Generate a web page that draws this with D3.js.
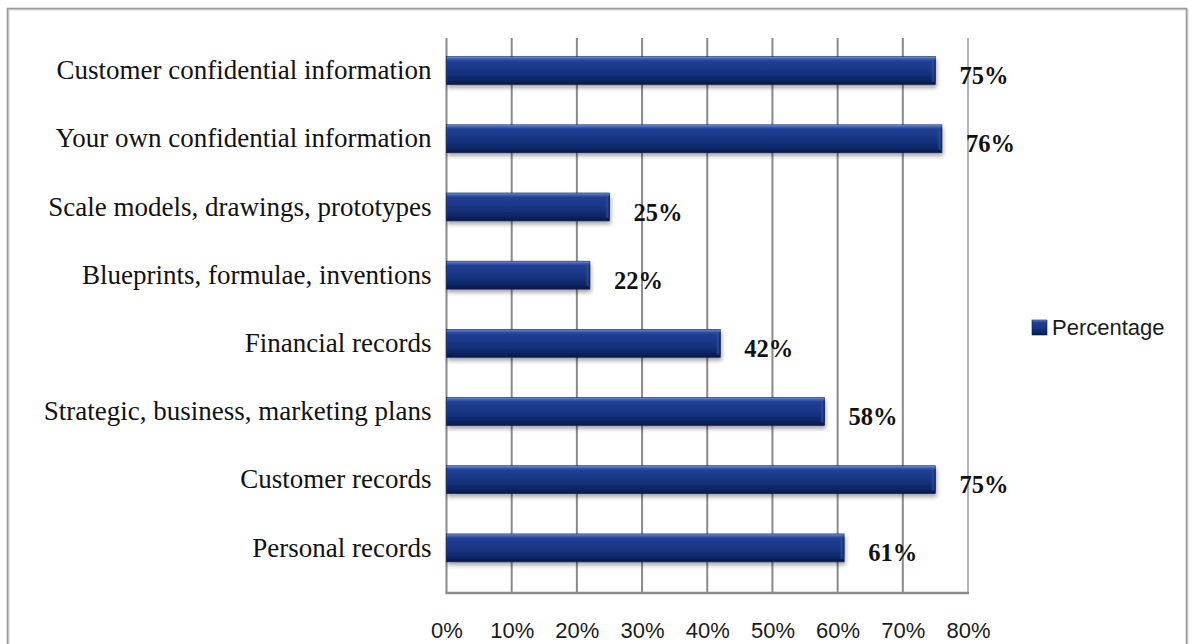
<!DOCTYPE html>
<html>
<head>
<meta charset="utf-8">
<script src="https://cdn.jsdelivr.net/npm/d3@7/dist/d3.min.js"></script>
<style>
  html, body { margin: 0; padding: 0; background: #ffffff; }
  svg { display: block; }
</style>
</head>
<body>
<svg id="chart" width="1193" height="644"></svg>
<script>
// Kinds of information, top to bottom, and the share of respondents for each
const categories = [
  "Customer confidential information",
  "Your own confidential information",
  "Scale models, drawings, prototypes",
  "Blueprints, formulae, inventions",
  "Financial records",
  "Strategic, business, marketing plans",
  "Customer records",
  "Personal records"
];
const percentages = [75, 76, 25, 22, 42, 58, 75, 61];
const tickValues = [0, 10, 20, 30, 40, 50, 60, 70, 80];
const seriesName = "Percentage";

const svg = d3.select("#chart");
const W = 1193, H = 644;
// Band area for the bars, and the taller frame of gridlines around it
const plot = { left: 446.5, right: 968, top: 36.5, bottom: 582 };
const grid = { top: 38, bottom: 593 };

const defs = svg.append("defs");

// Bevelled navy fill for the bars
const grad = defs.append("linearGradient")
  .attr("id", "barFill").attr("x1", 0).attr("y1", 0).attr("x2", 0).attr("y2", 1);
[[0, "#7d9be0"], [0.07, "#3e62b4"], [0.16, "#223f92"], [0.5, "#183684"],
 [0.82, "#0d2766"], [0.93, "#081c52"], [1, "#0a1a44"]]
  .forEach(([o, c]) => grad.append("stop").attr("offset", o).attr("stop-color", c));

// Right end bevel of each bar
const endGrad = defs.append("linearGradient")
  .attr("id", "barEnd").attr("x1", 0).attr("y1", 0).attr("x2", 1).attr("y2", 0);
[[0, "#1a3a8a", 0], [0.5, "#3a5cb0", 0.55], [1, "#0a1a48", 0.9]]
  .forEach(([o, c, a]) => endGrad.append("stop").attr("offset", o)
    .attr("stop-color", c).attr("stop-opacity", a));

// Soft shadow under the bars
const shadow = defs.append("filter").attr("id", "barShadow")
  .attr("x", "-5%").attr("y", "-30%").attr("width", "115%").attr("height", "180%");
shadow.append("feGaussianBlur").attr("in", "SourceAlpha").attr("stdDeviation", 2).attr("result", "blur");
shadow.append("feOffset").attr("in", "blur").attr("dx", 1).attr("dy", 3).attr("result", "off");
shadow.append("feComponentTransfer").attr("in", "off").attr("result", "soft")
  .append("feFuncA").attr("type", "linear").attr("slope", 0.35);
const merge = shadow.append("feMerge");
merge.append("feMergeNode").attr("in", "soft");
merge.append("feMergeNode").attr("in", "SourceGraphic");

// Outer chart frame
svg.append("rect")
  .attr("x", 8.5).attr("y", 9.5).attr("width", W - 14).attr("height", H)
  .attr("fill", "none").attr("stroke", "#d6d6d6").attr("stroke-width", 2);
svg.append("rect")
  .attr("x", 7.5).attr("y", 8.5).attr("width", W - 14).attr("height", H)
  .attr("fill", "none").attr("stroke", "#9a9a9a").attr("stroke-width", 1.6);

const x = d3.scaleLinear().domain([0, 80]).range([plot.left, plot.right]);
const y = d3.scaleBand().domain(categories)
  .range([plot.top, plot.bottom]).paddingInner(0.59).paddingOuter(0.295);

// Vertical gridlines
svg.append("g")
  .selectAll("line").data(tickValues).join("line")
  .attr("x1", d => x(d)).attr("x2", d => x(d))
  .attr("y1", grid.top).attr("y2", grid.bottom)
  .attr("stroke", d => d === 80 ? "#b4b4b4" : "#8a8a8a")
  .attr("stroke-width", 2);

// Bottom edge of the plot area
svg.append("line")
  .attr("x1", plot.left - 1).attr("x2", plot.right + 1)
  .attr("y1", grid.bottom).attr("y2", grid.bottom)
  .attr("stroke", "#8a8a8a").attr("stroke-width", 2.4);

// Percentage axis
const xAxis = d3.axisBottom(x).tickValues(tickValues)
  .tickFormat(d => d + "%").tickSize(0).tickPadding(0);
const gx = svg.append("g")
  .attr("transform", `translate(0,${grid.bottom + 37})`)
  .call(xAxis);
gx.select(".domain").remove();
gx.selectAll("text")
  .attr("dy", "0.35em")
  .attr("fill", "#1a1a1a")
  .style("font-family", "'Liberation Sans', Arial, sans-serif")
  .style("font-size", "22px");

// Category axis
const yAxis = d3.axisLeft(y).tickSize(0).tickPadding(15);
const gy = svg.append("g")
  .attr("transform", `translate(${plot.left},0)`)
  .call(yAxis);
gy.select(".domain").remove();
gy.selectAll("text")
  .attr("fill", "#111")
  .style("font-family", "'Liberation Serif', 'Times New Roman', serif")
  .style("font-size", "27px");

// Bars
const rows = categories.map((c, i) => ({ category: c, value: percentages[i] }));
const bars = svg.append("g").selectAll("g").data(rows).join("g")
  .attr("filter", "url(#barShadow)");
bars.append("rect")
  .attr("x", x(0))
  .attr("y", d => y(d.category))
  .attr("width", d => x(d.value) - x(0))
  .attr("height", y.bandwidth())
  .attr("fill", "url(#barFill)")
  .attr("stroke", "#0b1d52").attr("stroke-width", 0.6);
bars.append("rect")
  .attr("x", d => x(d.value) - 5)
  .attr("y", d => y(d.category) + 3)
  .attr("width", 5)
  .attr("height", y.bandwidth() - 6)
  .attr("fill", "url(#barEnd)");

// Value labels
svg.append("g").selectAll("text").data(rows).join("text")
  .attr("x", d => x(d.value) + 24)
  .attr("y", d => y(d.category) + y.bandwidth() / 2 + 5)
  .attr("dy", "0.35em")
  .attr("fill", "#111")
  .style("font-family", "'Liberation Serif', 'Times New Roman', serif")
  .style("font-weight", "bold")
  .style("font-size", "24.5px")
  .text(d => d.value + "%");

// Legend
const legend = svg.append("g").attr("transform", "translate(1032,320)");
legend.append("rect")
  .attr("width", 15).attr("height", 15)
  .attr("fill", "url(#barFill)")
  .attr("stroke", "#0b1d52").attr("stroke-width", 0.6);
legend.append("text")
  .attr("x", 20).attr("y", 7.5).attr("dy", "0.35em")
  .attr("fill", "#1a1a1a")
  .style("font-family", "'Liberation Sans', Arial, sans-serif")
  .style("font-size", "22px")
  .text(seriesName);
</script>
</body>
</html>
